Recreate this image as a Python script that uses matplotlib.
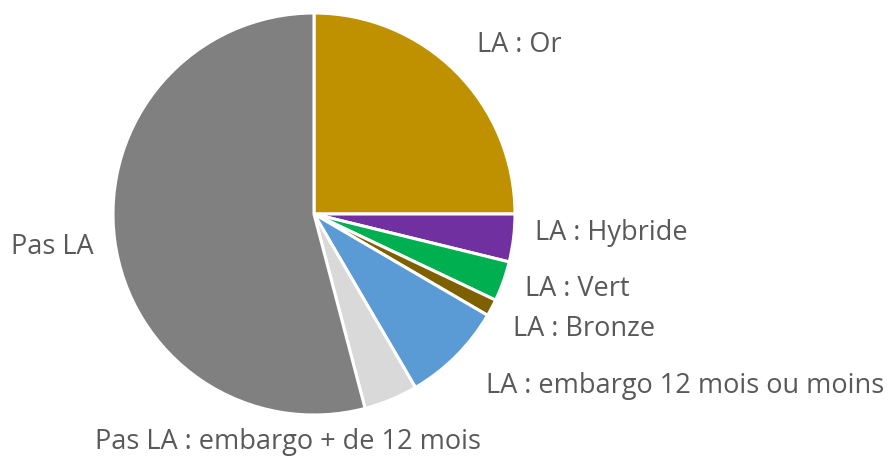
import matplotlib.pyplot as plt

# Parts of the pie, clockwise from 12 o'clock
labels = ['LA : Or', 'LA : Hybride', 'LA : Vert', 'LA : Bronze',
          'LA : embargo 12 mois ou moins', 'Pas LA : embargo + de 12 mois', 'Pas LA']
values = [25.0, 3.83, 3.22, 1.36, 8.17, 4.33, 54.09]
colors = ['#BF9000', '#7030A0', '#00B050', '#7F6000', '#5B9BD5', '#D9D9D9', '#808080']

# label centres, in pie-radius units
label_pos = [(1.02, 0.84), (1.478, -0.095), (1.308, -0.373), (1.343, -0.572),
             (1.846, -0.856), (-0.129, -1.134), (-1.303, -0.164)]


def main():
    fig = plt.figure(figsize=(8.92, 4.57), dpi=100)
    ax = fig.add_axes([113 / 892, 42 / 457, 402 / 892, 402 / 457])

    ax.pie(values, colors=colors, startangle=90, counterclock=False, radius=1,
           wedgeprops=dict(edgecolor='white', linewidth=2.2))
    ax.set_xlim(-1, 1)
    ax.set_ylim(-1, 1)
    ax.set_aspect('equal')
    ax.axis('off')

    for txt, (x, y) in zip(labels, label_pos):
        ax.text(x, y, txt, ha='center', va='center', fontsize=19.5,
                family='Open Sans', color='#595959', clip_on=False)

    fig.savefig('out.png', dpi=100)


if __name__ == '__main__':
    main()
